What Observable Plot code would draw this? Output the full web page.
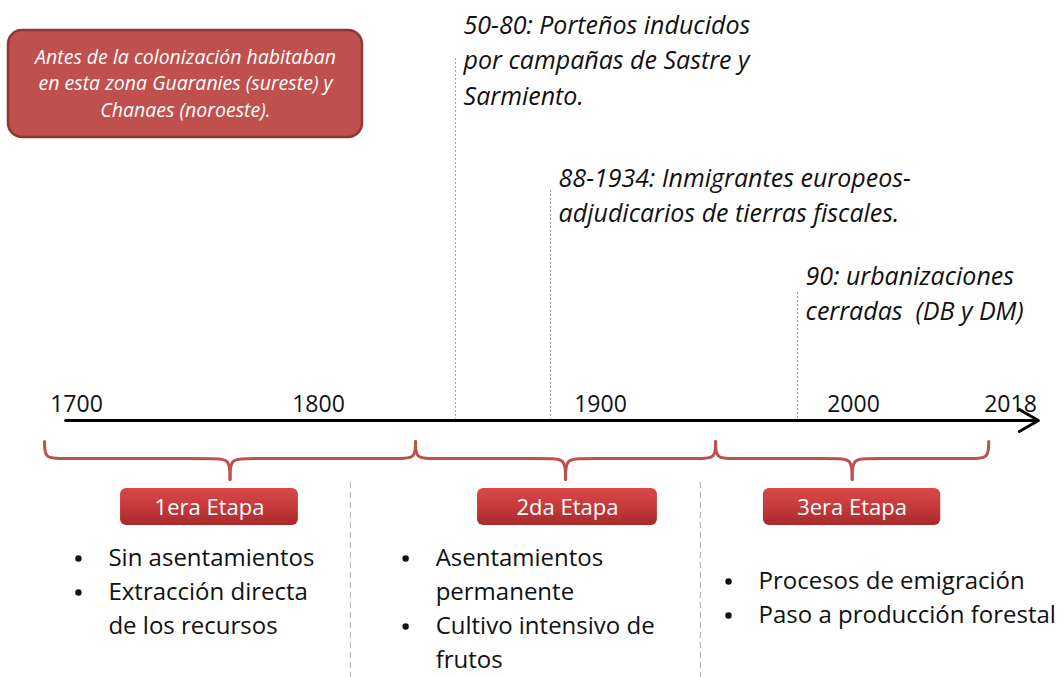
<!DOCTYPE html>
<html><head><meta charset="utf-8">
<script src="https://cdn.jsdelivr.net/npm/d3@7"></script>
<script src="https://cdn.jsdelivr.net/npm/@observablehq/plot@0.6"></script>
<style>body{margin:0;background:#fff;} #chart svg{display:block;}</style>
</head><body><div id="chart"></div>
<script>
// ---------- data (years) ----------
const tickYears = [1700, 1800, 1900, 2000, 2018];
const tickLabels = ["1700", "1800", "1900", "2000", "2018"];
const axisSpan = [1695.5, 2021.2];

const stageNames = ["1era Etapa", "2da Etapa", "3era Etapa"];
const braceStart = [1686.8, 1834.4, 1945.5];
const braceEnd = [1834.4, 1945.5, 2015.5];
const boxStart = [1718.2, 1856.4, 1964.4];
const boxEnd = [1791.7, 1922.5, 2010.0];
const bulletYears = [1700.8, 1830.9, 1950.6];
const stageBullets = [
  ["Sin asentamientos", "Extracción directa\nde los recursos"],
  ["Asentamientos\npermanente", "Cultivo intensivo de\nfrutos"],
  ["Procesos de emigración", "Paso a producción forestal"]
];
const dividerYears = [1811.3, 1939.5];

const eventYears = [1848.6, 1882.3, 1977.9];
const eventTexts = [
  "50-80: Porteños inducidos\npor campañas de Sastre y\nSarmiento.",
  "88-1934: Inmigrantes europeos-\nadjudicarios de tierras fiscales.",
  "90: urbanizaciones\ncerradas  (DB y DM)"
];
const introText = "Antes de la colonización habitaban\nen esta zona Guaranies (sureste) y\nChanaes (noroeste).";
const introSpan = [1671.9, 1815.6];

// ---------- layout ----------
const W = 1063, H = 677;
const xRange = [76, 318, 600, 853, 1010];
const xOpts = {type: "linear", domain: tickYears, range: xRange};
const yOpts = {type: "linear", domain: [0, H], range: [0, H]};
const px = d3.scaleLinear().domain(tickYears).range(xRange); // same mapping, for geometry
const mid = (a, b) => px.invert((px(a) + px(b)) / 2);        // visual midpoint, in years
const L = {
  axisY: 420, tickY: 404,
  eventTop: [25, 178, 276], eventLine: 35.5, lineTop: [58, 190, 292],
  braceTop: 441, braceMid: 458, braceTip: 479, braceR: 16,
  boxTop: 488, boxBottom: 525,
  dividerTop: 482,
  bulletTop: [558, 558, 581], bulletLine: 34,
  introTop: 30, introBottom: 137, introFirst: 57, introLine: 26.5
};
const FONT = "'Open Sans', Lato, sans-serif";

const eventLines = [];
eventTexts.forEach((t, i) => t.split("\n").forEach((s, j) =>
  eventLines.push({x: eventYears[i], y: L.eventTop[i] + j * L.eventLine, text: s})));

const bulletLines = [];
stageBullets.forEach((items, c) => {
  let k = 0;
  items.forEach(item => item.split("\n").forEach((s, j) => {
    bulletLines.push({x: bulletYears[c], y: L.bulletTop[c] + k * L.bulletLine, text: s, first: j === 0});
    k++;
  }));
});

const introLines = introText.split("\n").map((s, j) => ({y: L.introFirst + j * L.introLine, text: s}));

const braceLines = [];
stageNames.forEach((n, i) => {
  const a = px(braceStart[i]), b = px(braceEnd[i]), c = (a + b) / 2, r = L.braceR;
  const left = [[a, L.braceTop], [a, L.braceMid], [a + r, L.braceMid], [c - r, L.braceMid], [c, L.braceMid], [c, L.braceTip]];
  const right = [[c, L.braceTip], [c, L.braceMid], [c + r, L.braceMid], [b - r, L.braceMid], [b, L.braceMid], [b, L.braceTop]];
  left.forEach(p => braceLines.push({z: n + "L", x: px.invert(p[0]), y: p[1]}));
  right.forEach(p => braceLines.push({z: n + "R", x: px.invert(p[0]), y: p[1]}));
});

const stages = stageNames.map((n, i) => ({name: n, x1: boxStart[i], x2: boxEnd[i], xm: mid(boxStart[i], boxEnd[i])}));

const plot = Plot.plot({
  width: W, height: H,
  margin: 0,
  x: xOpts, y: yOpts,
  axis: null,
  style: {fontFamily: FONT, background: "#fff"},
  marks: [
    Plot.rect([introSpan], {x1: d => d[0], x2: d => d[1], y1: () => L.introTop, y2: () => L.introBottom,
      fill: "#c0504d", stroke: "#8c3835", strokeWidth: 2.5, rx: 14, ariaLabel: "introbox"}),
    Plot.text(introLines, {x: () => mid(introSpan[0], introSpan[1]), y: "y", text: "text",
      fill: "#fff", fontSize: 19.5, fontStyle: "italic", textAnchor: "middle"}),
    Plot.ruleX(eventYears, {x: d => d, y1: (d, i) => L.lineTop[i], y2: () => L.axisY,
      stroke: "#9a9a9a", strokeWidth: 1, strokeDasharray: "2,2"}),
    Plot.text(eventLines, {x: "x", y: "y", text: "text", dx: 8, textAnchor: "start",
      fontSize: 25, fontStyle: "italic", fill: "#111"}),
    Plot.arrow([axisSpan], {x1: d => d[0], x2: d => d[1], y1: () => L.axisY, y2: () => L.axisY,
      stroke: "#000", strokeWidth: 3, headLength: 11, headAngle: 60}),
    Plot.text(tickYears, {x: d => d, y: () => L.tickY, text: (d, i) => tickLabels[i],
      fontSize: 23, fill: "#111"}),
    Plot.line(braceLines, {x: "x", y: "y", z: "z", curve: "basis", stroke: "#c0504d",
      strokeWidth: 3, strokeLinecap: "round"}),
    Plot.rect(stages, {x1: "x1", x2: "x2", y1: () => L.boxTop, y2: () => L.boxBottom,
      fill: "url(#stageGrad)", rx: 6, ariaLabel: "stagebox"}),
    Plot.text(stages, {x: "xm", y: () => (L.boxTop + L.boxBottom) / 2 + 1, text: "name",
      fill: "#fff", fontSize: 22}),
    Plot.ruleX(dividerYears, {x: d => d, y1: () => L.dividerTop, y2: () => H,
      stroke: "#b0b0b0", strokeWidth: 1, strokeDasharray: "6,4"}),
    Plot.dot(bulletLines.filter(d => d.first), {x: "x", y: "y", r: 3.2, fill: "#111", stroke: null}),
    Plot.text(bulletLines, {x: "x", y: "y", text: "text", dx: 30, textAnchor: "start", fontSize: 24, fill: "#111"})
  ]
});

const svg = d3.select(plot);
const defs = svg.insert("defs", ":first-child");
const g = defs.append("linearGradient").attr("id", "stageGrad").attr("x1", 0).attr("y1", 0).attr("x2", 0).attr("y2", 1);
g.append("stop").attr("offset", "0%").attr("stop-color", "#d9484a");
g.append("stop").attr("offset", "55%").attr("stop-color", "#c3393b");
g.append("stop").attr("offset", "100%").attr("stop-color", "#a8292b");
const f = defs.append("filter").attr("id", "shadow").attr("x", "-10%").attr("y", "-20%").attr("width", "130%").attr("height", "150%");
f.append("feDropShadow").attr("dx", 1.5).attr("dy", 2.5).attr("stdDeviation", 2).attr("flood-color", "#000").attr("flood-opacity", 0.3);
svg.selectAll('g[aria-label="introbox"], g[aria-label="stagebox"]').attr("filter", "url(#shadow)");

document.getElementById("chart").append(plot);
</script>
</body></html>
